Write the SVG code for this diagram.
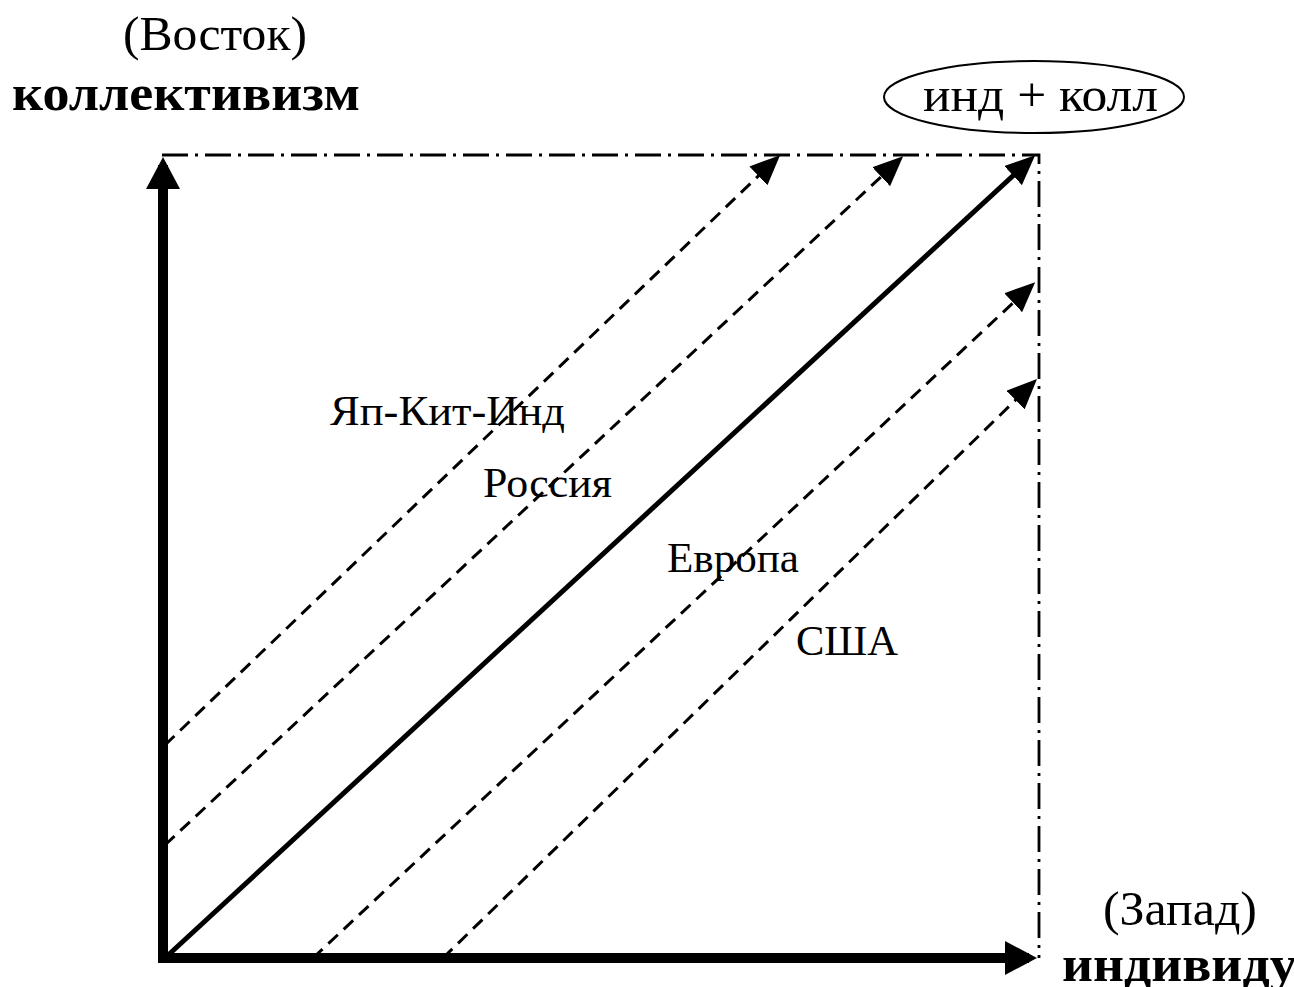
<svg xmlns="http://www.w3.org/2000/svg" width="1294" height="987" viewBox="0 0 1294 987">
<style>
text{font-family:"Liberation Serif","Times New Roman",serif;fill:#000}
.big{font-size:48px}
.bold{font-size:50px;font-weight:bold}
.lbl{font-size:42px}
.dash{fill:none;stroke:#000;stroke-width:3;stroke-dasharray:13 8}
.dd{fill:none;stroke:#000;stroke-width:2.8;stroke-dasharray:26 7 3 7}
.axis{fill:none;stroke:#000;stroke-width:10}
</style>
<defs>
<marker id="hs" viewBox="0 0 30 26" refX="23" refY="13" markerWidth="30" markerHeight="26" markerUnits="userSpaceOnUse" orient="auto"><path d="M0,0 L30,13 L0,26 Z" fill="#000"/></marker>
<marker id="hl" viewBox="0 0 32 34" refX="24" refY="17" markerWidth="32" markerHeight="34" markerUnits="userSpaceOnUse" orient="auto"><path d="M0,0 L32,17 L0,34 Z" fill="#000"/></marker>
</defs>
<rect width="1294" height="987" fill="#fff"/>
<g id="frame">
<path class="dd" d="M162,155 H1039 V958"/>
</g>
<g id="axes">
<path class="axis" d="M163,962 V165" marker-end="url(#hl)"/>
<path class="axis" d="M158,958 H1029" marker-end="url(#hl)"/>
</g>
<g id="connectors">
<line x1="165" y1="958" x2="1030" y2="160" stroke="#000" stroke-width="5" marker-end="url(#hs)"/>
<line class="dash" x1="165" y1="745" x2="775" y2="160" marker-end="url(#hs)"/>
<line class="dash" x1="165" y1="845" x2="898" y2="161" marker-end="url(#hs)"/>
<line class="dash" x1="313" y1="958" x2="1030" y2="287" marker-end="url(#hs)"/>
<line class="dash" x1="443" y1="958" x2="1032" y2="384" marker-end="url(#hs)"/>
</g>
<g id="east-label">
<text class="big" x="123" y="50" textLength="184" lengthAdjust="spacingAndGlyphs">(Восток)</text>
<text class="bold" x="12" y="110" textLength="348" lengthAdjust="spacingAndGlyphs">коллективизм</text>
</g>
<g id="ind-koll">
<ellipse cx="1034" cy="97" rx="150" ry="36" fill="none" stroke="#000" stroke-width="2"/>
<text class="big" x="923" y="111" textLength="235" lengthAdjust="spacingAndGlyphs">инд + колл</text>
</g>
<g id="west-label">
<text class="big" x="1103" y="925" textLength="154" lengthAdjust="spacingAndGlyphs">(Запад)</text>
<text class="bold" x="1062" y="981" textLength="380" lengthAdjust="spacingAndGlyphs">индивидуализм</text>
</g>
<g id="labels">
<text class="lbl" x="330" y="425" textLength="235" lengthAdjust="spacingAndGlyphs">Яп-Кит-Инд</text>
<text class="lbl" x="483" y="497" textLength="129" lengthAdjust="spacingAndGlyphs">Россия</text>
<text class="lbl" x="667" y="572" textLength="132" lengthAdjust="spacingAndGlyphs">Европа</text>
<text class="lbl" x="796" y="655" textLength="102" lengthAdjust="spacingAndGlyphs">США</text>
</g>
</svg>
